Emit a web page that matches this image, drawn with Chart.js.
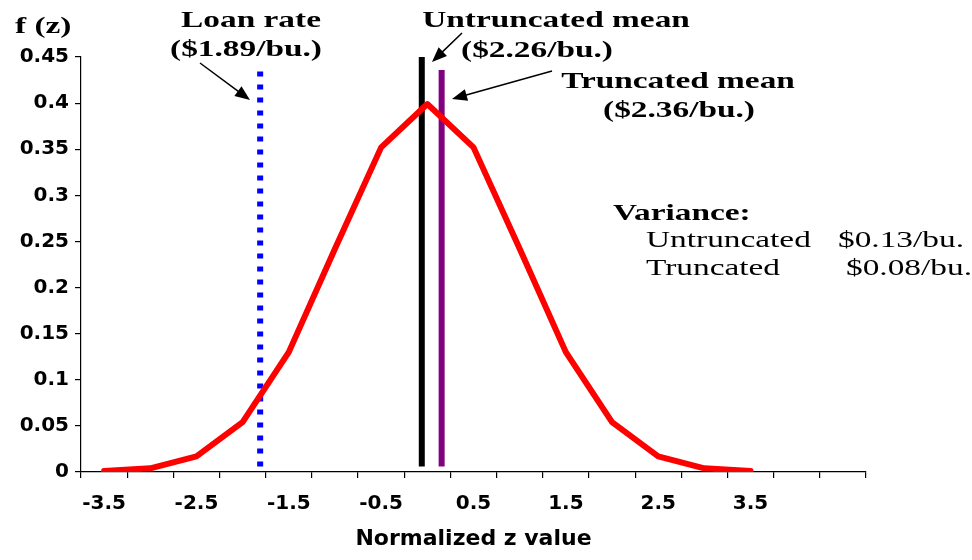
<!DOCTYPE html>
<html lang="en">

<head>
  <meta charset="UTF-8">
  <title>Normalized z distribution</title>
  <script src="https://cdn.jsdelivr.net/npm/chart.js"></script>
  <style>
    body { margin: 0; background: #fff; }
    #wrap { width: 972px; height: 560px; }
  </style>
</head>

<body>
  <div id="wrap"><canvas id="zChart"></canvas></div>
  <script>
    // normal curve
    var zValues = [-3.5, -3, -2.5, -2, -1.5, -1, -0.5, 0, 0.5, 1, 1.5, 2, 2.5, 3, 3.5];
    var density = [0.001, 0.004, 0.017, 0.054, 0.13, 0.242, 0.352, 0.399, 0.352, 0.242, 0.13, 0.054, 0.017, 0.004, 0.001];

    // vertical markers (z position, bottom, top)
    var loanRateZ = -1.81;
    var loanRateY = [0.006, 0.435];
    var untruncMeanZ = -0.06;
    var untruncMeanY = [0.006, 0.451];
    var truncMeanZ = 0.155;
    var truncMeanY = [0.006, 0.436];

    // axis ticks
    var xLabelTicks = [-3.5, -2.5, -1.5, -0.5, 0.5, 1.5, 2.5, 3.5];
    var xTickMarks = [-3.75, -3.25, -2.75, -2.25, -1.75, -1.25, -0.75, -0.25, 0.25, 0.75, 1.25, 1.75, 2.25, 2.75, 3.25, 3.75, 4.25, 4.75];
    var yTicks = [0, 0.05, 0.1, 0.15, 0.2, 0.25, 0.3, 0.35, 0.4, 0.45];

    var sansBold = { family: 'DejaVu Sans', weight: 'bold', size: 20 };

    function vline(z, ys, color, dash) {
      return {
        data: [{ x: z, y: ys[0] }, { x: z, y: ys[1] }],
        borderColor: color,
        borderWidth: 6,
        borderDash: dash || [],
        borderCapStyle: 'butt',
        pointRadius: 0,
        xAxisID: 'x',
        yAxisID: 'y'
      };
    }

    function wideText(ctx, text, x, y, font, align) {
      ctx.save();
      ctx.font = font;
      ctx.textAlign = align;
      ctx.textBaseline = 'alphabetic';
      ctx.fillStyle = '#000';
      ctx.translate(x, y);
      ctx.scale(1.45, 1);
      ctx.fillText(text, 0, 0);
      ctx.restore();
    }

    function arrow(ctx, x1, y1, x2, y2) {
      var ang = Math.atan2(y2 - y1, x2 - x1);
      var c = Math.cos(ang), s = Math.sin(ang);
      ctx.save();
      ctx.strokeStyle = '#000';
      ctx.fillStyle = '#000';
      ctx.lineWidth = 1.5;
      ctx.beginPath();
      ctx.moveTo(x1, y1);
      ctx.lineTo(x2 - 12 * c, y2 - 12 * s);
      ctx.stroke();
      ctx.beginPath();
      ctx.moveTo(x2, y2);
      ctx.lineTo(x2 - 15 * c + 6 * s, y2 - 15 * s - 6 * c);
      ctx.lineTo(x2 - 15 * c - 6 * s, y2 - 15 * s + 6 * c);
      ctx.closePath();
      ctx.fill();
      ctx.restore();
    }

    var notes = {
      id: 'notes',
      afterDraw: function (chart) {
        var ctx = chart.ctx;
        var bold = 'bold 23px "Liberation Serif"';
        var plain = '23px "Liberation Serif"';
        wideText(ctx, 'f (z)', 15, 33, bold, 'left');
        wideText(ctx, 'Loan rate', 251, 27, bold, 'center');
        wideText(ctx, '($1.89/bu.)', 246, 56, bold, 'center');
        wideText(ctx, 'Untruncated mean', 556, 27, bold, 'center');
        wideText(ctx, '($2.26/bu.)', 537, 57, bold, 'center');
        wideText(ctx, 'Truncated mean', 678, 88, bold, 'center');
        wideText(ctx, '($2.36/bu.)', 679, 117, bold, 'center');
        wideText(ctx, 'Variance:', 613, 220, bold, 'left');
        wideText(ctx, 'Untruncated', 646, 247, plain, 'left');
        wideText(ctx, '$0.13/bu.', 838, 247, plain, 'left');
        wideText(ctx, 'Truncated', 646, 275, plain, 'left');
        wideText(ctx, '$0.08/bu.', 846, 275, plain, 'left');
        arrow(ctx, 200, 63, 250, 100);
        arrow(ctx, 462, 33, 432, 62);
        arrow(ctx, 552, 71, 452, 99);
      }
    };

    new Chart(document.getElementById('zChart'), {
      type: 'line',
      data: {
        datasets: [
          {
            data: zValues.map(function (z, i) { return { x: z, y: density[i] }; }),
            borderColor: '#ff0000',
            borderWidth: 6,
            borderJoinStyle: 'round',
            borderCapStyle: 'round',
            pointRadius: 0,
            tension: 0,
            xAxisID: 'x',
            yAxisID: 'y'
          },
          vline(loanRateZ, loanRateY, '#0000ff', [5, 8]),
          vline(untruncMeanZ, untruncMeanY, '#000000'),
          vline(truncMeanZ, truncMeanY, '#800080')
        ]
      },
      options: {
        responsive: true,
        maintainAspectRatio: false,
        devicePixelRatio: 1,
        animation: false,
        layout: { padding: { top: 57, right: 106, bottom: 0, left: 0 } },
        plugins: { legend: { display: false }, tooltip: { enabled: false } },
        scales: {
          x: {
            type: 'linear',
            position: 'bottom',
            weight: 0,
            min: -3.75,
            max: 4.75,
            afterBuildTicks: function (scale) {
              scale.ticks = xTickMarks.map(function (v) { return { value: v }; });
            },
            afterFit: function (scale) { scale.height = 6; },
            ticks: { display: false },
            grid: { drawOnChartArea: false, drawTicks: true, tickLength: 6, color: '#000', lineWidth: 1.2 },
            border: { display: true, color: '#000', width: 1.2 }
          },
          xl: {
            type: 'linear',
            position: 'bottom',
            weight: 1,
            min: -3.75,
            max: 4.75,
            afterBuildTicks: function (scale) {
              scale.ticks = xLabelTicks.map(function (v) { return { value: v }; });
            },
            afterFit: function (scale) { scale.height = 82; },
            ticks: {
              font: sansBold,
              color: '#000',
              padding: 14,
              maxRotation: 0,
              autoSkip: false,
              callback: function (v) { return String(v); }
            },
            grid: { display: false, drawTicks: false },
            border: { display: false },
            title: {
              display: true,
              text: 'Normalized z value',
              color: '#000',
              font: { family: 'DejaVu Sans', weight: 'bold', size: 22 },
              padding: { top: 0, bottom: 8 }
            }
          },
          y: {
            type: 'linear',
            min: 0,
            max: 0.45,
            afterBuildTicks: function (scale) {
              scale.ticks = yTicks.map(function (v) { return { value: v }; });
            },
            afterFit: function (scale) { scale.width = 81; },
            ticks: {
              font: sansBold,
              color: '#000',
              padding: 6,
              callback: function (v) { return String(+v.toFixed(2)); }
            },
            grid: { drawOnChartArea: false, drawTicks: true, tickLength: 6, color: '#000', lineWidth: 1.2 },
            border: { display: true, color: '#000', width: 1.2 }
          }
        }
      },
      plugins: [notes]
    });
  </script>
</body>

</html>
